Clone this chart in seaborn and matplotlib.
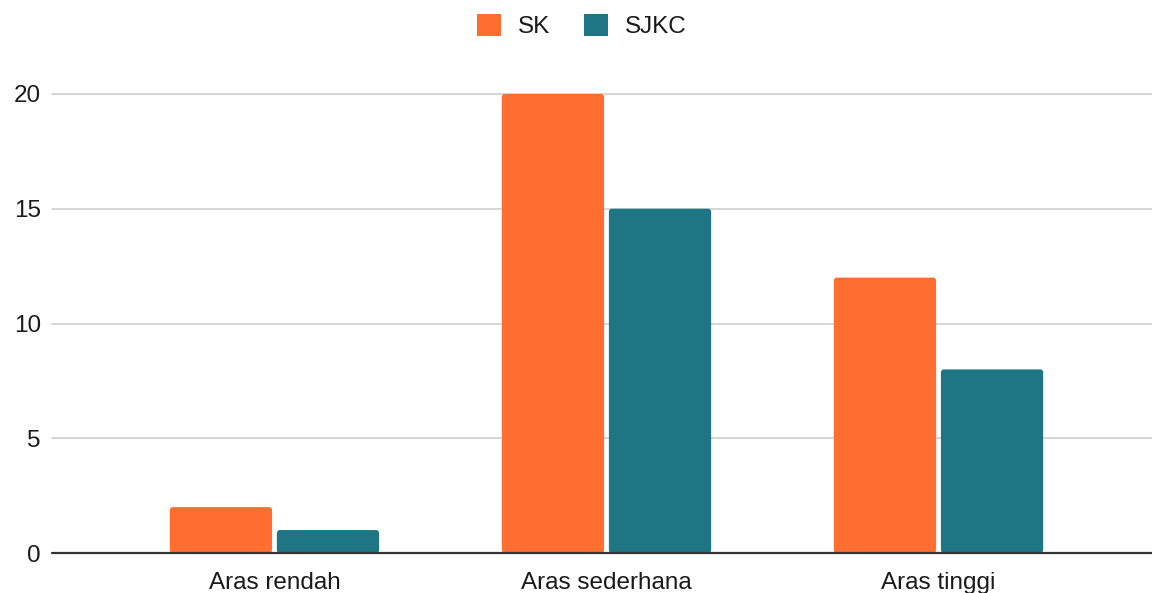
import matplotlib
matplotlib.use("Agg")
import matplotlib.pyplot as plt
from matplotlib.patches import FancyBboxPatch, Patch
import seaborn as sns
import pandas as pd

categories = ["Aras rendah", "Aras sederhana", "Aras tinggi"]
series_names = ["SK", "SJKC"]
sk_values = [2, 20, 12]
sjkc_values = [1, 15, 8]
y_ticks = [0, 5, 10, 15, 20]
colors = ["#FF6D31", "#1E7685"]

df = pd.DataFrame({
    "category": categories * 2,
    "school": [series_names[0]] * 3 + [series_names[1]] * 3,
    "value": sk_values + sjkc_values,
})

sns.set_theme(style="white")
plt.rcParams["font.family"] = ["Liberation Sans", "DejaVu Sans"]

W, H, DPI = 1152, 593, 100
FS = 17.5
TEXT = "#1a1a1a"
fig = plt.figure(figsize=(W / DPI, H / DPI), dpi=DPI)
ax = fig.add_axes([52 / W, (H - 553) / H, 1 - 52 / W, (553 - 94) / H])

sns.barplot(data=df, x="category", y="value", hue="school",
            palette=colors, width=0.645, gap=0.045, saturation=1,
            order=categories, hue_order=series_names, ax=ax, legend=False)

ax.set_xlim(-0.670, 2.643)
ax.set_ylim(0, 20)

# swap plain rectangles for bars with slightly rounded corners
x_px = (W - 52) / (2.643 + 0.670)
y_px = (553 - 94) / 20
aspect = x_px / y_px
radius = 3 / x_px
for bar in list(ax.patches):
    x, y = bar.get_x(), bar.get_y()
    w, h = bar.get_width(), bar.get_height()
    fc = bar.get_facecolor()
    bar.remove()
    if h <= 0:
        continue
    rb = FancyBboxPatch((x, y), w, h,
                        boxstyle=f"round,pad=0,rounding_size={radius}",
                        mutation_aspect=aspect, facecolor=fc,
                        edgecolor="none", linewidth=0, zorder=3)
    ax.add_patch(rb)

ax.set_yticks(y_ticks)
ax.set_yticklabels([str(t) for t in y_ticks])
for t in y_ticks[1:]:
    ax.axhline(t, color="#cccccc", linewidth=1.1, zorder=1, clip_on=False)
ax.axhline(0, color="#333333", linewidth=1.6, zorder=4, clip_on=False)

for side in ["top", "right", "left", "bottom"]:
    ax.spines[side].set_visible(False)
ax.tick_params(axis="both", length=0, labelsize=FS, colors=TEXT)
ax.tick_params(axis="y", pad=8)
ax.tick_params(axis="x", pad=14)
ax.set_xlabel("")
ax.set_ylabel("")

handles = [Patch(facecolor=c, edgecolor="none") for c in colors]
fig.legend(handles, series_names, loc="center", bbox_to_anchor=(582 / W, 1 - 26 / H),
           ncol=2, frameon=False, fontsize=FS, handlelength=0.99, handleheight=0.99,
           handletextpad=0.7, columnspacing=1.4, labelcolor=TEXT)

fig.savefig("out.png", dpi=DPI)
